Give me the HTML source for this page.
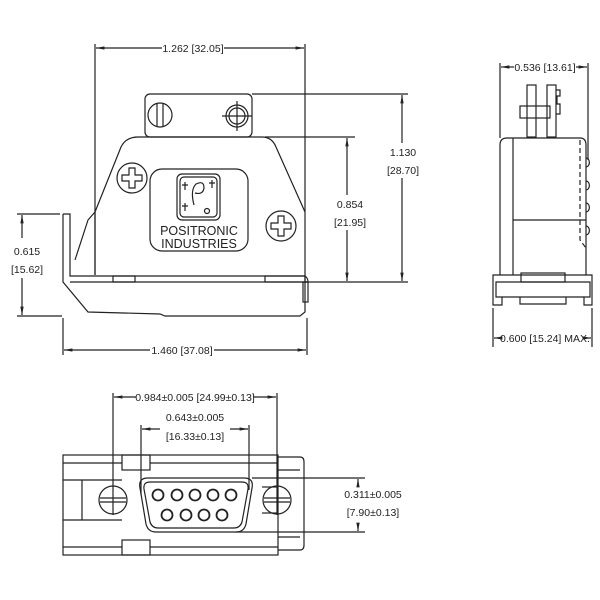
<!DOCTYPE html>
<html><head><meta charset="utf-8"><style>
html,body{margin:0;padding:0;background:#fff}
svg{display:block}
text{font-family:"Liberation Sans",sans-serif;font-size:10.5px;fill:#222}
</style></head><body>
<svg width="600" height="600" viewBox="0 0 600 600" xmlns="http://www.w3.org/2000/svg">
<defs>
<marker id="a" viewBox="0 0 10 10" refX="10" refY="5" markerWidth="7" markerHeight="7" orient="auto-start-reverse"><path d="M0,3 L10,5 L0,7 z" fill="#222"/></marker>
</defs>
<g fill="none" stroke="#222" stroke-width="1.2">
<line x1="95" y1="44" x2="95" y2="275"/>
<line x1="305" y1="44" x2="305" y2="212"/>
<line x1="96" y1="48" x2="162" y2="48" marker-start="url(#a)"/>
<line x1="224" y1="48" x2="304" y2="48" marker-end="url(#a)"/>
<rect x="145" y="94" width="107" height="43" rx="5"/>
<circle cx="160" cy="115" r="12"/>
<line x1="157" y1="104" x2="157" y2="126"/><line x1="163" y1="104" x2="163" y2="126"/>
<circle cx="237" cy="116" r="11"/><circle cx="237" cy="116" r="8"/>
<line x1="222" y1="116" x2="252" y2="116"/><line x1="237" y1="101" x2="237" y2="131"/>
<path d="M95,275 L95,212 L121,147 Q126,137 138,137 L262,137 Q272,137 276,147 L305,212 L305,282"/>
<path d="M95,212 L88,220 L75,260"/>
<circle cx="132" cy="178" r="15"/><path d="M129,168 h6 v7 h7 v6 h-7 v7 h-6 v-7 h-7 v-6 h7 z"/>
<circle cx="281" cy="226" r="15"/><path d="M278,216 h6 v7 h7 v6 h-7 v7 h-6 v-7 h-7 v-6 h7 z"/>
<rect x="150" y="169" width="98" height="82" rx="12"/>
<rect x="177" y="174" width="43" height="46" rx="5"/>
<rect x="180" y="177" width="37" height="40" rx="4"/>
<path d="M194,205 Q190,190 196,184 Q204,180 204,188 Q203,195 195,193"/>
<circle cx="207" cy="211" r="2.5"/>
<path d="M185,182 v8 M182,185 h6 M212,180 v8 M209,183 h6 M185,203 v8 M182,206 h6"/>
<path d="M63,214 L70,214 L70,276 L305,276 Q308,278 308,282 L305,282"/>
<path d="M63,214 L63,282 L88,312 L160,314 L165,316 L300,316 L305,312 L305,282"/>
<line x1="70" y1="282" x2="305" y2="282"/>
<rect x="113" y="276" width="22" height="6"/>
<rect x="265" y="276" width="40" height="6"/>
<rect x="303" y="282" width="5" height="20"/>
<line x1="17" y1="214" x2="60" y2="214"/><line x1="17" y1="316" x2="62" y2="316"/>
<line x1="22" y1="215" x2="22" y2="238" marker-start="url(#a)"/>
<line x1="22" y1="278" x2="22" y2="315" marker-end="url(#a)"/>
<line x1="63" y1="318" x2="63" y2="355"/><line x1="307" y1="318" x2="307" y2="355"/>
<line x1="64" y1="350" x2="150" y2="350" marker-start="url(#a)"/>
<line x1="214" y1="350" x2="306" y2="350" marker-end="url(#a)"/>
<line x1="265" y1="137" x2="355" y2="137"/>
<line x1="252" y1="94" x2="408" y2="94"/>
<line x1="305" y1="282" x2="408" y2="282"/>
<line x1="347" y1="138" x2="347" y2="195" marker-start="url(#a)"/>
<line x1="347" y1="230" x2="347" y2="281" marker-end="url(#a)"/>
<line x1="402" y1="95" x2="402" y2="143" marker-start="url(#a)"/>
<line x1="402" y1="178" x2="402" y2="281" marker-end="url(#a)"/>
<line x1="500" y1="63" x2="500" y2="138"/><line x1="588" y1="63" x2="588" y2="160"/>
<line x1="501" y1="67" x2="514" y2="67" marker-start="url(#a)"/>
<line x1="576" y1="67" x2="587" y2="67" marker-end="url(#a)"/>
<rect x="527" y="85" width="9" height="52"/><rect x="547" y="85" width="9" height="52"/>
<path d="M556,90 h4 v6 h-3 v8 h3 v10 h-4"/>
<rect x="520" y="106" width="30" height="12"/>
<path d="M500,275 L500,145 Q500,138 507,138 L580,138 Q586,138 586,145 L586,275"/>
<line x1="513" y1="138" x2="513" y2="275"/>
<line x1="513" y1="220" x2="586" y2="220"/>
<path d="M580,140 V240 L586,248" stroke-dasharray="5,3"/>
<path d="M586,158 a3,4 0 0 1 0,9 M586,181 a3,4 0 0 1 0,9 M586,203 a3,4 0 0 1 0,9 M586,226 a3,4 0 0 1 0,9"/>
<path d="M493,275 H592 V305 H584 V297 H590 V282 H496 V297 H502 V305 H493 Z"/>
<rect x="521" y="273" width="44" height="9"/>
<path d="M502,297 H584 M520,297 V304 H566 V297"/>
<line x1="493" y1="308" x2="493" y2="347"/><line x1="592" y1="308" x2="592" y2="347"/>
<line x1="494" y1="338" x2="500" y2="338" marker-start="url(#a)"/>
<line x1="586" y1="338" x2="591" y2="338" marker-end="url(#a)"/>
<line x1="113" y1="393" x2="113" y2="515"/><line x1="277" y1="393" x2="277" y2="515"/>
<line x1="114" y1="397" x2="136" y2="397" marker-start="url(#a)"/>
<line x1="253" y1="397" x2="276" y2="397" marker-end="url(#a)"/>
<line x1="141" y1="425" x2="141" y2="495"/><line x1="249" y1="425" x2="249" y2="490"/>
<line x1="142" y1="429" x2="160" y2="429" marker-start="url(#a)"/>
<line x1="230" y1="429" x2="248" y2="429" marker-end="url(#a)"/>
<rect x="63" y="455" width="215" height="100"/>
<path d="M278,457 H300 Q304,457 304,462 V545 Q304,550 300,550 H278"/>
<line x1="278" y1="470" x2="300" y2="470"/><line x1="278" y1="537" x2="300" y2="537"/>
<line x1="63" y1="463" x2="122" y2="463"/><line x1="150" y1="463" x2="278" y2="463"/>
<line x1="63" y1="547" x2="122" y2="547"/><line x1="150" y1="547" x2="278" y2="547"/>
<rect x="122" y="455" width="28" height="15"/><rect x="122" y="540" width="28" height="15"/>
<line x1="63" y1="480" x2="122" y2="480"/><line x1="63" y1="520" x2="122" y2="520"/>
<line x1="82" y1="480" x2="82" y2="520"/>
<line x1="262" y1="487" x2="278" y2="487"/><line x1="262" y1="513" x2="278" y2="513"/>
<circle cx="113" cy="500" r="14"/><line x1="100" y1="498" x2="126" y2="498"/><line x1="100" y1="502" x2="126" y2="502"/>
<circle cx="277" cy="500" r="14"/><line x1="264" y1="498" x2="290" y2="498"/><line x1="264" y1="502" x2="290" y2="502"/>
<path d="M148,478 H244 Q254,478 252,488 L246,524 Q244,532 236,532 H156 Q148,532 146,524 L140,488 Q138,478 148,478 Z"/>
<path d="M150,482 H242 Q249,482 248,489 L242,522 Q240,528 234,528 H158 Q152,528 150,522 L144,489 Q143,482 150,482 Z"/>
<g stroke-width="1.8">
<circle cx="158" cy="495" r="5.5"/><circle cx="177" cy="495" r="5.5"/><circle cx="195" cy="495" r="5.5"/><circle cx="213" cy="495" r="5.5"/><circle cx="231" cy="495" r="5.5"/>
<circle cx="167" cy="515" r="5.5"/><circle cx="186" cy="515" r="5.5"/><circle cx="204" cy="515" r="5.5"/><circle cx="222" cy="515" r="5.5"/>
</g>
<line x1="252" y1="478" x2="365" y2="478"/><line x1="236" y1="532" x2="365" y2="532"/>
<line x1="358" y1="479" x2="358" y2="485" marker-start="url(#a)"/>
<line x1="358" y1="525" x2="358" y2="531" marker-end="url(#a)"/>
</g>
<g text-anchor="middle">
<text x="193" y="52">1.262 [32.05]</text>
<text x="182" y="354">1.460 [37.08]</text>
<text x="27" y="255">0.615</text><text x="27" y="273">[15.62]</text>
<text x="350" y="208">0.854</text><text x="350" y="226">[21.95]</text>
<text x="403" y="156">1.130</text><text x="403" y="174">[28.70]</text>
<text x="545" y="71">0.536 [13.61]</text>
<text x="545" y="342">0.600 [15.24] MAX.</text>
<text x="195" y="401">0.984±0.005 [24.99±0.13]</text>
<text x="195" y="421">0.643±0.005</text>
<text x="195" y="440">[16.33±0.13]</text>
<text x="373" y="498">0.311±0.005</text>
<text x="373" y="516">[7.90±0.13]</text>
<text x="199" y="235" style="font-size:12.5px">POSITRONIC</text>
<text x="199" y="248" style="font-size:12.5px">INDUSTRIES</text>
</g>
</svg>
</body></html>
